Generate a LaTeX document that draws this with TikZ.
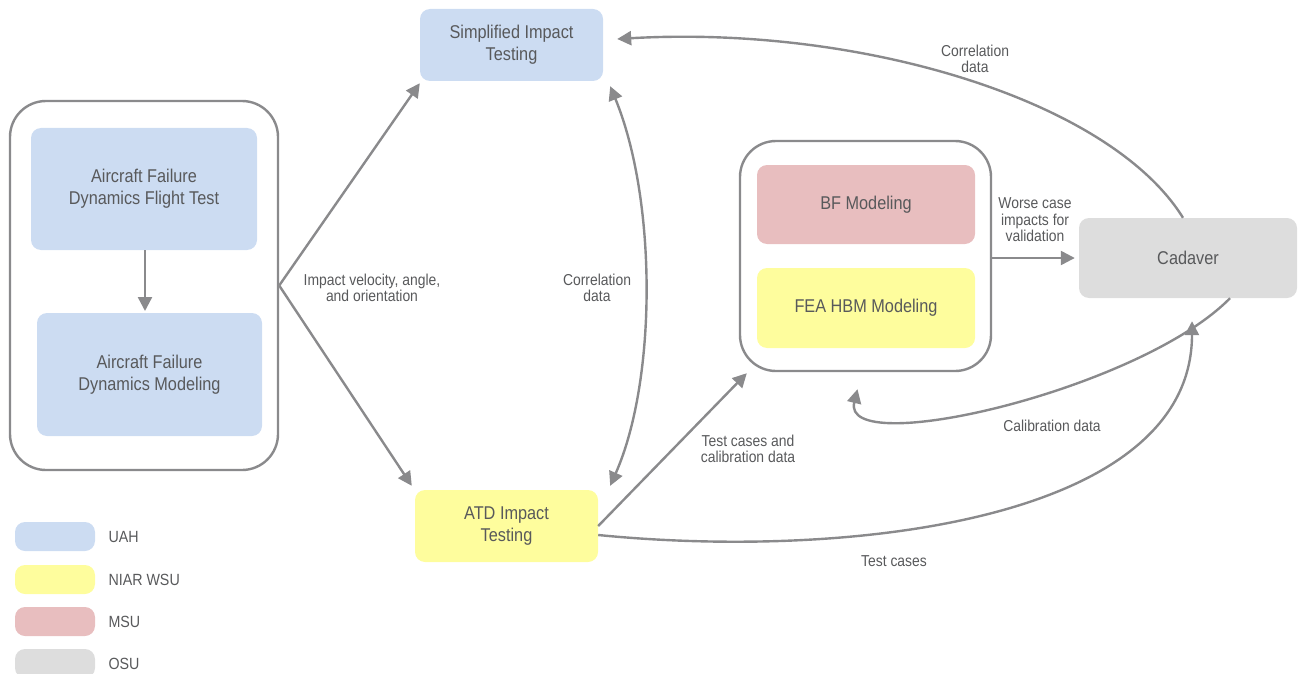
\documentclass[tikz,border=0pt]{standalone}
\usepackage{fontspec}
\setmainfont{Liberation Sans}[FakeStretch=0.88]
\usetikzlibrary{arrows.meta,calc}
\definecolor{uah}{HTML}{CCDCF2}
\definecolor{wsu}{HTML}{FEFD9D}
\definecolor{msu}{HTML}{E8BEBF}
\definecolor{osu}{HTML}{DDDDDD}
\definecolor{txt}{HTML}{58595B}
\definecolor{ln}{HTML}{8A8A8C}
\begin{document}
\begin{tikzpicture}[x=1pt,y=-1pt,
  box/.style={rounded corners=10pt,inner sep=0pt,align=center,text=txt,font=\fontsize{18.5}{22}\selectfont},
  grp/.style={draw=ln,line width=2.4pt,rounded corners=36pt,inner sep=0pt},
  conn/.style={draw=ln,line width=2.4pt,-{Triangle[length=14pt,width=14pt]}},
  lbl/.style={text=txt,align=center,font=\fontsize{15.8}{16.5}\selectfont},
  leg/.style={text=txt,anchor=west,font=\fontsize{16.2}{19}\selectfont}]
\useasboundingbox (0,0) rectangle (1301,674);
% left group
\node[grp,minimum width=268pt,minimum height=369pt] (lgrp) at (144,285.5) {};
\node[box,fill=uah,minimum width=226pt,minimum height=122pt] (aft) at (144,189) {Aircraft Failure\\Dynamics Flight Test};
\node[box,fill=uah,minimum width=225pt,minimum height=123pt] (afm) at (149.5,374.5) {Aircraft Failure\\Dynamics Modeling};
\draw[conn] (aft.south -| 145,0) -- (145,311);
% centre boxes
\node[box,fill=uah,minimum width=183pt,minimum height=72pt] (simp) at (511.5,45) {Simplified Impact\\Testing};
\node[box,fill=wsu,minimum width=183pt,minimum height=72pt] (atd) at (506.5,526) {ATD Impact\\Testing};
% right group
\node[grp,minimum width=251pt,minimum height=230pt] (rgrp) at (865.5,256) {};
\node[box,fill=msu,minimum width=218pt,minimum height=79pt] (bf) at (866,204.5) {BF Modeling};
\node[box,fill=wsu,minimum width=218pt,minimum height=80pt] (fea) at (866,308) {FEA HBM Modeling};
\node[box,fill=osu,minimum width=218pt,minimum height=80pt] (cad) at (1188,258) {Cadaver};
% connectors
\draw[conn] (lgrp.east) -- ([xshift=0pt,yshift=-2pt]simp.south west);
\draw[conn] (lgrp.east) -- ([xshift=-3pt,yshift=4pt]atd.north west);
\draw[draw=ln,line width=2.4pt,{Triangle[length=14pt,width=14pt]}-{Triangle[length=14pt,width=14pt]}]
  ([xshift=7pt,yshift=-5pt]simp.south east) .. controls (657,200) and (657,380) .. ([xshift=12pt,yshift=4pt]atd.north east);
\draw[conn] (atd.east) -- ([xshift=8pt,yshift=-1pt]rgrp.south west);
\draw[conn] ([yshift=-9pt]atd.east) .. controls (850,560) and (1192,520) .. ([xshift=4pt,yshift=-23pt]cad.south);
\draw[conn] ([xshift=-5pt]cad.north) .. controls (1110,100) and (860,25) .. ([xshift=14pt,yshift=6pt]simp.east);
\draw[conn] (rgrp.east |- cad.west) -- ([xshift=-4pt]cad.west);
\draw[conn] ([xshift=42pt]cad.south) .. controls (1140,390) and (840,460) .. ([xshift=-8pt,yshift=-17pt]rgrp.south);
% labels
\node[lbl] (l1) at (372,288) {Impact velocity, angle,\\and orientation};
\node[lbl] (l2) at (597,288) {Correlation\\data};
\node[lbl] (l3) at (748,449) {Test cases and\\calibration data};
\node[lbl] (l4) at (894,561) {Test cases};
\node[lbl] (l5) at (975,59) {Correlation\\data};
\node[lbl] (l6) at (1035,220) {Worse case\\impacts for\\validation};
\node[lbl] (l7) at (1052,426) {Calibration data};
% legend
\node[box,fill=uah,minimum width=80pt,minimum height=29pt] (k1) at (55,536.5) {};
\node[box,fill=wsu,minimum width=80pt,minimum height=29pt] (k2) at (55,579.5) {};
\node[box,fill=msu,minimum width=80pt,minimum height=29pt] (k3) at (55,621.5) {};
\node[box,fill=osu,minimum width=80pt,minimum height=29pt] (k4) at (55,663.5) {};
\node[leg] (t1) at (105,537) {UAH};
\node[leg] (t2) at (105,580) {NIAR WSU};
\node[leg] (t3) at (105,622) {MSU};
\node[leg] (t4) at (105,664) {OSU};
\end{tikzpicture}
\end{document}
